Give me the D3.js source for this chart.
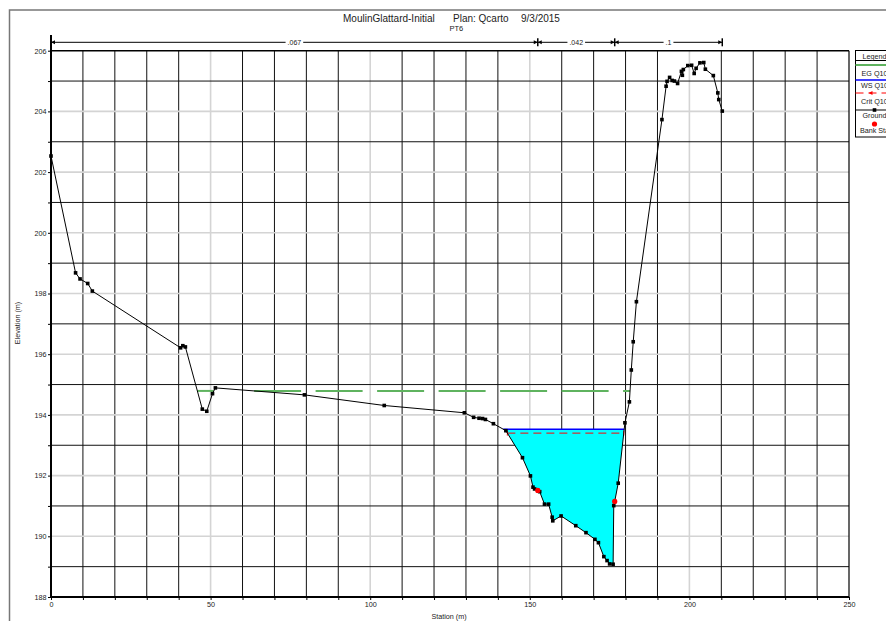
<!DOCTYPE html>
<html>
<head>
<meta charset="utf-8">
<script src="https://cdn.jsdelivr.net/npm/d3@7"></script>
<style>
  body { margin: 0; background: #fff; }
  svg { display: block; }
  text { font-family: "Liberation Sans", Arial, sans-serif; fill: #222; }
</style>
</head>
<body>
<svg id="chart" width="886" height="621"></svg>
<script>
// Cross section PT6 – ground survey points (station m, elevation m)
const stations = [
  0, 7.7, 9.1, 11.5, 12.95, 40.6, 41.3, 42.1, 47.4, 48.8, 50.6, 51.5,
  79.4, 104.4, 129.5, 132.4, 134.1, 135.2, 136.1, 138.6, 142.5, 147.7,
  150.2, 151.0, 151.5, 152.5, 153.1, 154.6, 155.9, 157.0, 157.2, 159.8,
  164.4, 167.6, 170.4, 171.5, 173.2, 174.2, 175.0, 176.1, 176.3, 176.6,
  177.7, 179.8, 181.2, 181.8, 182.4, 183.4, 191.4, 192.7, 193.0, 193.8,
  194.6, 195.3, 196.3, 197.5, 197.8, 198.1, 199.5, 200.7, 201.5, 202.1,
  203.3, 204.5, 205.0, 207.5, 208.9, 209.2, 210.3
];
const elevations = [
  202.53, 198.68, 198.48, 198.33, 198.08, 196.21, 196.28, 196.24, 194.19, 194.12, 194.70, 194.89,
  194.66, 194.31, 194.07, 193.92, 193.89, 193.88, 193.85, 193.71, 193.48, 192.59,
  191.99, 191.62, 191.56, 191.51, 191.47, 191.06, 191.06, 190.63, 190.51, 190.67,
  190.35, 190.12, 189.90, 189.79, 189.33, 189.20, 189.09, 189.08, 191.01, 191.15,
  191.75, 193.74, 194.43, 195.48, 196.41, 197.73, 203.73, 204.83, 204.99, 205.12,
  205.02, 205.00, 204.92, 205.32, 205.19, 205.38, 205.51, 205.52, 205.25, 205.42,
  205.60, 205.61, 205.39, 205.18, 204.61, 204.39, 204.01
];

// Bank stations
const bankStations = [152.5, 176.6];

// Profile Q10 water levels
const profileNames = ["EG Q10", "WS Q10", "Crit Q10"];
const profileElevations = [194.79, 193.53, 193.40];

// Manning's n values and their station breaks
const nValues = [".067", ".042", ".1"];
const nBreaks = [0, 152.5, 176.6, 210.3];

// Axis ticks
const xTickLabels = [0, 50, 100, 150, 200, 250];
const yTickLabels = [188, 190, 192, 194, 196, 198, 200, 202, 204, 206];

const titleParts = ["MoulinGlattard-Initial", "Plan: Qcarto", "9/3/2015"];
const subtitle = "PT6";
const legendItems = ["Legend", "EG Q10", "WS Q10", "Crit Q10", "Ground", "Bank Sta"];

const svg = d3.select("#chart");
const x = d3.scaleLinear().domain([0, 250]).range([51, 849]);
const y = d3.scaleLinear().domain([188, 206]).range([597, 50.7]);

const ground = stations.map((s, i) => ({ s, e: elevations[i] }));
const groundAt = s => {
  for (let i = 0; i < ground.length - 1; i++) {
    const a = ground[i], b = ground[i + 1];
    if (s >= a.s && s <= b.s) return a.e + (b.e - a.e) * (s - a.s) / (b.s - a.s);
  }
  return ground[ground.length - 1].e;
};
// Runs of the section lying below a given level, with ground points inside
function runsBelow(level) {
  const runs = [];
  let cur = null;
  for (let i = 0; i < ground.length; i++) {
    const p = ground[i];
    const below = p.e < level;
    if (i > 0) {
      const q = ground[i - 1];
      const qb = q.e < level;
      if (below !== qb) {
        const sc = q.s + (p.s - q.s) * (level - q.e) / (p.e - q.e);
        if (below) { cur = { s0: sc, pts: [] }; }
        else if (cur) { cur.s1 = sc; runs.push(cur); cur = null; }
      }
    }
    if (below && cur) cur.pts.push(p);
  }
  return runs;
}

// Outer frame
svg.append("rect").attr("x", 9.5).attr("y", 10).attr("width", 950).attr("height", 700)
  .attr("fill", "none").attr("stroke", "#777").attr("stroke-width", 1.5);

// Title
const titleX = [343, 453, 521];
titleParts.forEach((t, i) => {
  svg.append("text").attr("x", titleX[i]).attr("y", 21.5).attr("font-size", 10).text(t);
});
svg.append("text").attr("x", 449.5).attr("y", 30.5).attr("font-size", 7.5).text(subtitle);

// Grid
const grid = svg.append("g");
d3.range(10, 250, 10).forEach(s => {
  const major = s % 50 === 0;
  grid.append("line").attr("x1", x(s)).attr("x2", x(s)).attr("y1", y(188)).attr("y2", y(206))
    .attr("stroke", major ? "#d4d4d4" : "#111").attr("stroke-width", major ? 1.6 : 1);
});
d3.range(189, 206, 1).forEach(e => {
  const major = e % 2 === 0;
  grid.append("line").attr("x1", x(0)).attr("x2", x(250)).attr("y1", y(e)).attr("y2", y(e))
    .attr("stroke", major ? "#d4d4d4" : "#111").attr("stroke-width", major ? 1.6 : 1);
});

// Water fill (WS Q10)
const wsRuns = runsBelow(profileElevations[1]);
const ws = profileElevations[1];
wsRuns.forEach(r => {
  const poly = [[r.s0, ws], ...r.pts.map(p => [p.s, p.e]), [r.s1, ws]];
  svg.append("path")
    .attr("d", d3.line().x(d => x(d[0])).y(d => y(d[1]))(poly) + "Z")
    .attr("fill", "#00ffff").attr("stroke", "none");
});

// EG line
runsBelow(profileElevations[0]).forEach(r => {
  svg.append("line").attr("x1", x(r.s0)).attr("x2", x(r.s1))
    .attr("y1", y(profileElevations[0])).attr("y2", y(profileElevations[0]))
    .attr("stroke", "#5fb35f").attr("stroke-width", 2).attr("stroke-dasharray", "47,14.5");
});

// Crit line
const crit = profileElevations[2];
runsBelow(crit).forEach(r => {
  svg.append("line").attr("x1", x(r.s0)).attr("x2", x(r.s1))
    .attr("y1", y(crit)).attr("y2", y(crit))
    .attr("stroke", "#ff0000").attr("stroke-width", 1).attr("stroke-dasharray", "8,5");
  [r.s0, r.s1].forEach(s => {
    svg.append("line").attr("x1", x(s)).attr("x2", x(s)).attr("y1", y(crit) - 2.5).attr("y2", y(crit) + 2.5)
      .attr("stroke", "#ff0000").attr("stroke-width", 1);
  });
});

// WS line
wsRuns.forEach(r => {
  svg.append("line").attr("x1", x(r.s0)).attr("x2", x(r.s1)).attr("y1", y(ws)).attr("y2", y(ws))
    .attr("stroke", "#0000ff").attr("stroke-width", 1.5);
});

// Ground line
svg.append("path").datum(ground)
  .attr("d", d3.line().x(d => x(d.s)).y(d => y(d.e)))
  .attr("fill", "none").attr("stroke", "#000").attr("stroke-width", 1);
svg.append("g").selectAll("rect").data(ground).join("rect")
  .attr("x", d => x(d.s) - 1.8).attr("y", d => y(d.e) - 1.8)
  .attr("width", 3.6).attr("height", 3.6).attr("fill", "#000");

// Bank stations
svg.append("g").selectAll("circle").data(bankStations).join("circle")
  .attr("cx", d => x(d)).attr("cy", d => y(groundAt(d))).attr("r", 2.6).attr("fill", "#ff0000");

// Plot frame
svg.append("line").attr("x1", x(0)).attr("x2", x(250)).attr("y1", y(206)).attr("y2", y(206))
  .attr("stroke", "#000").attr("stroke-width", 1.6);
svg.append("line").attr("x1", x(250)).attr("x2", x(250)).attr("y1", y(206)).attr("y2", y(188))
  .attr("stroke", "#000").attr("stroke-width", 1.2);

// Axes
const yAxis = d3.axisLeft(y).tickValues(d3.range(188, 207, 1)).tickSize(3).tickPadding(1.5)
  .tickFormat(d => yTickLabels.includes(d) ? d : "");
const gy = svg.append("g").attr("transform", `translate(${x(0)},0)`).call(yAxis);
gy.select(".domain").remove();
gy.selectAll("text").attr("font-size", 7.2).attr("font-family", "Liberation Sans, Arial, sans-serif").attr("fill", "#222");

const xAxis = d3.axisBottom(x).tickValues(d3.range(0, 251, 10)).tickSize(3).tickPadding(1.5)
  .tickFormat(d => xTickLabels.includes(d) ? d : "");
const gx = svg.append("g").attr("transform", `translate(0,${y(188)})`).call(xAxis);
gx.select(".domain").remove();
gx.selectAll("text").attr("font-size", 7.2).attr("font-family", "Liberation Sans, Arial, sans-serif").attr("fill", "#222");

svg.append("line").attr("x1", x(0)).attr("x2", x(250)).attr("y1", y(188)).attr("y2", y(188))
  .attr("stroke", "#000").attr("stroke-width", 2);
svg.append("line").attr("x1", x(0)).attr("x2", x(0)).attr("y1", 35).attr("y2", y(188))
  .attr("stroke", "#000").attr("stroke-width", 2);

svg.append("text").attr("x", 449).attr("y", 619).attr("text-anchor", "middle")
  .attr("font-size", 7.2).text("Station (m)");
svg.append("text").attr("transform", "translate(20,323) rotate(-90)").attr("text-anchor", "middle")
  .attr("font-size", 7.2).text("Elevation (m)");

// Manning's n bar
const nY = 42.3;
const nBar = svg.append("g");
nBar.append("line").attr("x1", x(nBreaks[0])).attr("x2", x(nBreaks[nBreaks.length - 1]))
  .attr("y1", nY).attr("y2", nY).attr("stroke", "#000").attr("stroke-width", 1);
const arrow = (px, dir) => {
  nBar.append("path")
    .attr("d", `M${px},${nY} l${-dir * 4},-2 l0,4 Z`).attr("fill", "#000");
};
nBreaks.forEach((b, i) => {
  if (i > 0) arrow(x(b), 1);
  if (i < nBreaks.length - 1) arrow(x(b), -1);
  if (i > 0) nBar.append("line").attr("x1", x(b)).attr("x2", x(b)).attr("y1", nY - 4).attr("y2", nY + 4)
    .attr("stroke", "#000").attr("stroke-width", 1.5);
});
nValues.forEach((v, i) => {
  const cx = x((nBreaks[i] + nBreaks[i + 1]) / 2);
  const t = nBar.append("text").attr("x", cx).attr("y", nY + 2.5).attr("text-anchor", "middle")
    .attr("font-size", 7).text(v);
  const w = t.node().getComputedTextLength();
  nBar.insert("rect", "text").attr("x", cx - w / 2 - 2).attr("y", nY - 2).attr("width", w + 4)
    .attr("height", 4).attr("fill", "#fff");
});

// Legend (box runs past the right edge of the page)
const lg = svg.append("g");
const lx = 855.5, lcx = 874.5;
const legendTextY = [58.5, 75.5, 88, 103.5, 117.5, 132.5];
lg.append("rect").attr("x", lx).attr("y", 50.5).attr("width", 60).attr("height", 86.5)
  .attr("fill", "#fff").attr("stroke", "#000").attr("stroke-width", 1);
lg.append("line").attr("x1", lx).attr("x2", lx + 60).attr("y1", 60.5).attr("y2", 60.5).attr("stroke", "#000");
lg.append("line").attr("x1", lx).attr("x2", lx + 60).attr("y1", 65).attr("y2", 65)
  .attr("stroke", "#5fb35f").attr("stroke-width", 2);
lg.append("line").attr("x1", lx).attr("x2", lx + 60).attr("y1", 80).attr("y2", 80)
  .attr("stroke", "#0000ff").attr("stroke-width", 1.5);
lg.append("line").attr("x1", lx).attr("x2", lx + 60).attr("y1", 93).attr("y2", 93)
  .attr("stroke", "#ff0000").attr("stroke-width", 1).attr("stroke-dasharray", "8,5");
lg.append("path").attr("d", `M${lcx - 6},93 l4,-2 l0,4 Z`).attr("fill", "#ff0000");
lg.append("line").attr("x1", lx).attr("x2", lx + 60).attr("y1", 110).attr("y2", 110)
  .attr("stroke", "#000").attr("stroke-width", 1);
lg.append("rect").attr("x", lcx - 1.8).attr("y", 108.2).attr("width", 3.6).attr("height", 3.6).attr("fill", "#000");
lg.append("circle").attr("cx", lcx).attr("cy", 124).attr("r", 2.6).attr("fill", "#ff0000");
legendItems.forEach((t, i) => {
  lg.append("text").attr("x", lcx).attr("y", legendTextY[i]).attr("text-anchor", "middle")
    .attr("font-size", 7.2).text(t);
});
</script>
</body>
</html>
